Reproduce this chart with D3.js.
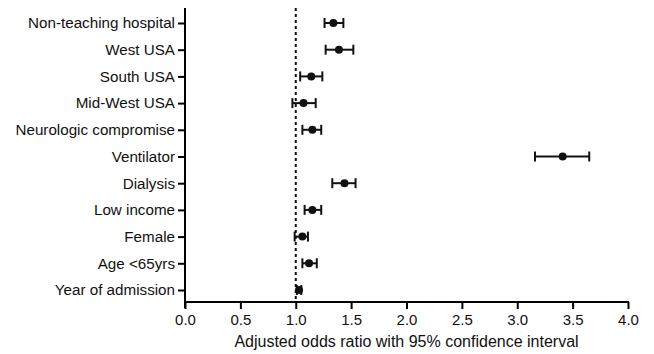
<!DOCTYPE html>
<html>
<head>
<meta charset="utf-8">
<script src="https://cdn.jsdelivr.net/npm/d3@7"></script>
<style>
  body { margin: 0; background: #fff; }
  text { font-family: "Liberation Sans", Arial, sans-serif; fill: #111; }
</style>
</head>
<body>
<div id="chart"></div>
<script>
  // data
  const labels = ["Non-teaching hospital", "West USA", "South USA", "Mid-West USA",
    "Neurologic compromise", "Ventilator", "Dialysis", "Low income", "Female",
    "Age <65yrs", "Year of admission"];
  const oddsRatio = [1.34, 1.39, 1.14, 1.07, 1.15, 3.41, 1.44, 1.15, 1.06, 1.12, 1.03];
  const ciLow  = [1.26, 1.27, 1.04, 0.97, 1.06, 3.16, 1.33, 1.08, 0.99, 1.06, 1.01];
  const ciHigh = [1.43, 1.52, 1.24, 1.18, 1.23, 3.65, 1.54, 1.23, 1.11, 1.19, 1.05];
  const xTicks = [0, 0.5, 1, 1.5, 2, 2.5, 3, 3.5, 4];

  const w = 654, h = 354;

  var svg = d3.select("#chart")
    .append("svg")
    .attr("width", w)
    .attr("height", h);

  const x = d3.scaleLinear().domain([0, 4]).range([185, 628]);
  const y = d3.scalePoint().domain(labels).range([23, 290]);

  // x axis
  const xAxis = svg.append("g")
    .attr("transform", "translate(0,302)")
    .call(d3.axisBottom(x).tickValues(xTicks).tickFormat(d3.format(".1f")).tickSizeOuter(0).tickSize(7));
  xAxis.select(".domain").attr("stroke-width", 2).attr("d", "M184,0H629");
  xAxis.selectAll(".tick line").attr("stroke-width", 2);
  xAxis.selectAll(".tick text").attr("font-size", 15).attr("dy", "0.35em").attr("y", 18);

  // y axis
  const yAxis = svg.append("g")
    .attr("transform", "translate(185,0)")
    .call(d3.axisLeft(y).tickSizeOuter(0).tickSize(7));
  yAxis.select(".domain").attr("stroke-width", 2).attr("d", "M0,8V308");
  yAxis.selectAll(".tick line").attr("stroke-width", 2);
  yAxis.selectAll(".tick text").attr("font-size", 15.2).attr("x", -10);

  svg.append("text")
    .attr("x", x(2))
    .attr("y", 347)
    .attr("text-anchor", "middle")
    .attr("font-size", 16)
    .text("Adjusted odds ratio with 95% confidence interval");

  // reference line at OR = 1
  svg.append("line")
    .attr("x1", x(1)).attr("x2", x(1))
    .attr("y1", 8).attr("y2", 302)
    .attr("stroke", "#111")
    .attr("stroke-width", 2)
    .attr("stroke-dasharray", "3,3");

  const rows = svg.append("g").selectAll("g")
    .data(labels)
    .join("g");

  rows.append("line")
    .attr("x1", (d, i) => x(ciLow[i]))
    .attr("x2", (d, i) => x(ciHigh[i]))
    .attr("y1", d => y(d)).attr("y2", d => y(d))
    .attr("stroke", "#111").attr("stroke-width", 2);

  [ciLow, ciHigh].forEach(arr => {
    rows.append("line")
      .attr("x1", (d, i) => x(arr[i]))
      .attr("x2", (d, i) => x(arr[i]))
      .attr("y1", d => y(d) - 5).attr("y2", d => y(d) + 5)
      .attr("stroke", "#111").attr("stroke-width", 2);
  });

  rows.append("circle")
    .attr("cx", (d, i) => x(oddsRatio[i]))
    .attr("cy", d => y(d))
    .attr("r", 4)
    .attr("fill", "#111");
</script>
</body>
</html>
